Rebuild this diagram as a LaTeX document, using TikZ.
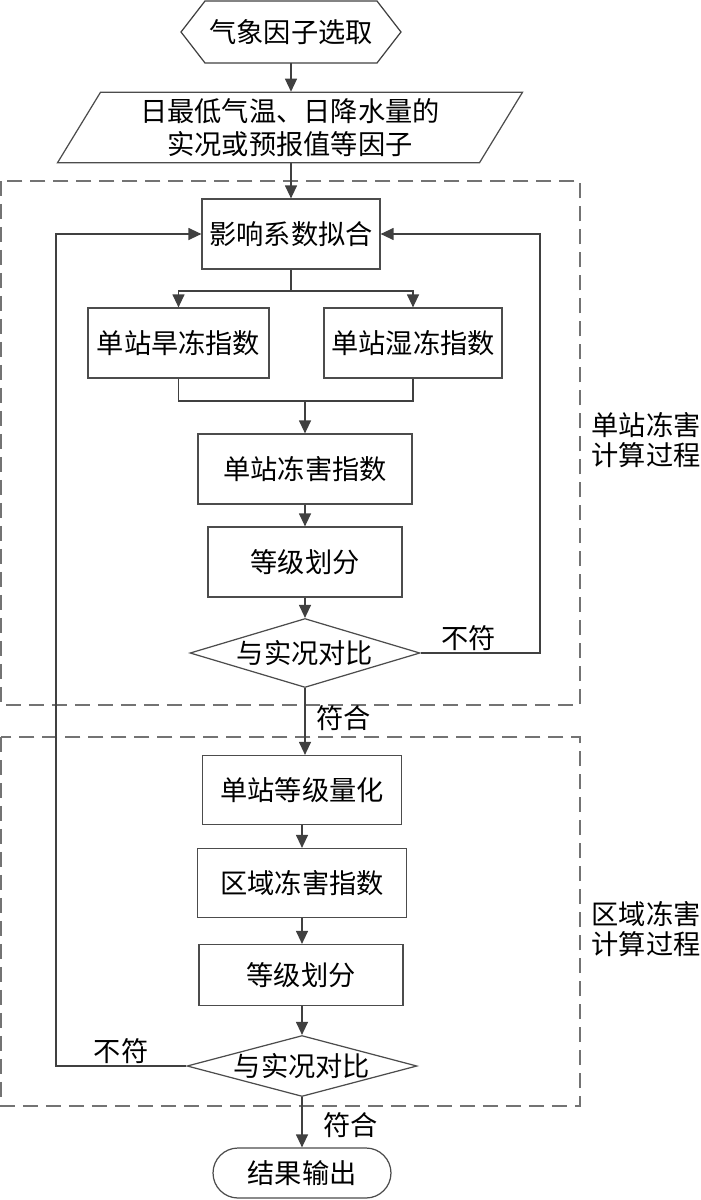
\documentclass[tikz,border=0pt]{standalone}
\usepackage{fontspec}
\newfontfamily\cnfont{Noto Sans CJK SC}
\usetikzlibrary{shapes.geometric,arrows.meta}

\tikzset{
	proc/.style={draw=black!70, line width=.7pt, inner sep=0pt, minimum height=1.4cm},
	dec/.style={diamond, draw=black!70, line width=.7pt, inner sep=0pt, aspect=4, text height=.42cm, text depth=0pt, minimum width=4.6cm},
	io/.style={trapezium, trapezium left angle=63.4, trapezium right angle=116.6, trapezium stretches=true, draw=black!70, line width=.7pt, minimum width=9.32cm, minimum height=1.4cm, align=center},
	term/.style={draw=black!70, line width=.7pt, rounded corners=.5cm, minimum width=3.56cm, minimum height=1cm},
	flow/.style={draw=black!75, line width=.7pt, -{Triangle[length=.26cm,width=.24cm]}},
	link/.style={draw=black!75, line width=.7pt},
	zone/.style={draw=black!55, line width=.9pt, dash pattern=on .3cm off .16cm},
	side/.style={align=center, font=\cnfont\fontsize{15.5pt}{17pt}\selectfont}
}

\begin{document}
\begin{tikzpicture}[x=.02cm, y=-.02cm, font=\cnfont\fontsize{15.5pt}{19pt}\selectfont]
	\useasboundingbox (0,0) rectangle (700,1200);

	% dashed process areas
	\draw[zone] (1,181) rectangle (580,705);
	\draw[zone] (1,737) rectangle (580,1106);
	\node[side] (zoneA) at (646,440) {单站冻害\\计算过程};
	\node[side] (zoneB) at (646,929) {区域冻害\\计算过程};

	% input
	\node[minimum width=4.4cm, minimum height=1.24cm, outer sep=0pt] (sel) at (291,32) {气象因子选取};
	\draw[link] (sel.west) -- ([xshift=.48cm]sel.north west) -- ([xshift=-.48cm]sel.north east) -- (sel.east) -- ([xshift=-.48cm]sel.south east) -- ([xshift=.48cm]sel.south west) -- cycle;
	\node[io] (fac) at (290,127.5) {日最低气温、日降水量的\\实况或预报值等因子};

	% single station
	\node[proc, minimum width=3.56cm] (fit) at (291,234) {影响系数拟合};
	\node[proc, minimum width=3.62cm] (dry) at (178.5,343) {单站旱冻指数};
	\node[proc, minimum width=3.56cm] (wet) at (413,343) {单站湿冻指数};
	\node[proc, minimum width=4.28cm] (sidx) at (305,469) {单站冻害指数};
	\node[proc, minimum width=3.88cm] (sgrd) at (305,562) {等级划分};
	\node[dec, minimum height=1.38cm] (scmp) at (305,653) {与实况对比};

	% region
	\node[proc, minimum width=3.98cm, minimum height=1.38cm] (squant) at (302,790) {单站等级量化};
	\node[proc, minimum width=4.18cm, minimum height=1.38cm] (ridx) at (302,883) {区域冻害指数};
	\node[proc, minimum width=4.08cm, minimum height=1.22cm] (rgrd) at (301,975) {等级划分};
	\node[dec, minimum height=1.22cm] (rcmp) at (302,1066) {与实况对比};
	\node[term] (out) at (302,1173) {结果输出};

	\coordinate (split) at (291,291);
	\coordinate (merge) at (305,401);
	\coordinate (backR) at (540,653);
	\coordinate (backL) at (56,1066);

	\draw[flow] (sel.south) -- (sel.south |- fac.north);
	\draw[flow] (fit.north |- fac.south) -- (fit.north);
	\draw[link] (fit.south) -- (split);
	\draw[flow] (split) -| (dry.north);
	\draw[flow] (split) -| (wet.north);
	\draw[link] (dry.south) |- (merge) -| (wet.south);
	\draw[flow] (merge) -- (sidx.north);
	\draw[flow] (sidx) -- (sgrd);
	\draw[flow] (sgrd) -- (scmp);
	\draw[flow] (scmp.east) -- node[above, pos=.4, inner sep=1pt] {不符} (backR) |- (fit.east);
	\draw[flow] (scmp.south) -- node[right, pos=.45, inner sep=6pt] {符合} (scmp.south |- squant.north);
	\draw[flow] (squant) -- (ridx);
	\draw[flow] (ridx.south) -- (ridx.south |- rgrd.north);
	\draw[flow] (rgrd.south -| rcmp.north) -- (rcmp.north);
	\draw[flow] (rcmp.west) -- node[above, pos=.5, inner sep=1pt] {不符} (backL) |- (fit.west);
	\draw[flow] (rcmp.south) -- node[right, pos=.55, inner sep=12pt] {符合} (out.north);
\end{tikzpicture}
\end{document}
